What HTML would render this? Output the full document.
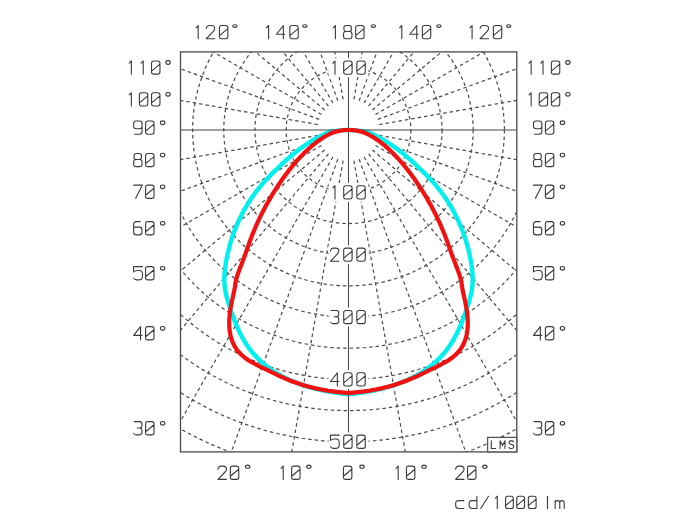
<!DOCTYPE html>
<html><head><meta charset="utf-8"><style>
html,body{margin:0;padding:0;background:#fff;}
body{width:700px;height:525px;overflow:hidden;font-family:"Liberation Sans",sans-serif;}
svg{display:block;filter:blur(0.3px);}
</style></head><body>
<svg width="700" height="525" viewBox="0 0 700 525" xmlns="http://www.w3.org/2000/svg">
<rect width="700" height="525" fill="#fff"/>
<defs><clipPath id="fc"><rect x="180.5" y="51.9" width="336.30" height="400.00"/></clipPath></defs>
<g clip-path="url(#fc)" fill="none" stroke="#4a4a4a" stroke-width="1.2" stroke-dasharray="3.5 3">
<circle cx="348.5" cy="130.0" r="62.35"/><circle cx="348.5" cy="130.0" r="93.53"/><circle cx="348.5" cy="130.0" r="124.70"/><circle cx="348.5" cy="130.0" r="155.88"/><circle cx="348.5" cy="130.0" r="187.05"/><circle cx="348.5" cy="130.0" r="218.23"/><circle cx="348.5" cy="130.0" r="249.40"/><circle cx="348.5" cy="130.0" r="280.58"/><circle cx="348.5" cy="130.0" r="311.75"/><circle cx="348.5" cy="130.0" r="342.93"/><line x1="343.09" y1="160.70" x2="279.04" y2="523.92"/><line x1="337.84" y1="159.29" x2="211.69" y2="505.88"/><line x1="332.91" y1="157.00" x2="148.50" y2="476.41"/><line x1="328.46" y1="153.88" x2="91.38" y2="436.42"/><line x1="324.62" y1="150.04" x2="42.08" y2="387.12"/><line x1="321.50" y1="145.59" x2="2.09" y2="330.00"/><line x1="319.21" y1="140.66" x2="-27.38" y2="266.81"/><line x1="317.80" y1="135.41" x2="-45.42" y2="199.46"/><line x1="317.80" y1="124.59" x2="-45.42" y2="60.54"/><line x1="319.21" y1="119.34" x2="-27.38" y2="-6.81"/><line x1="321.50" y1="114.41" x2="2.09" y2="-70.00"/><line x1="324.62" y1="109.96" x2="42.08" y2="-127.12"/><line x1="328.46" y1="106.12" x2="91.38" y2="-176.42"/><line x1="332.91" y1="103.00" x2="148.50" y2="-216.41"/><line x1="337.84" y1="100.71" x2="211.69" y2="-245.88"/><line x1="343.09" y1="99.30" x2="279.04" y2="-263.92"/><line x1="353.91" y1="160.70" x2="417.96" y2="523.92"/><line x1="359.16" y1="159.29" x2="485.31" y2="505.88"/><line x1="364.09" y1="157.00" x2="548.50" y2="476.41"/><line x1="368.54" y1="153.88" x2="605.62" y2="436.42"/><line x1="372.38" y1="150.04" x2="654.92" y2="387.12"/><line x1="375.50" y1="145.59" x2="694.91" y2="330.00"/><line x1="377.79" y1="140.66" x2="724.38" y2="266.81"/><line x1="379.20" y1="135.41" x2="742.42" y2="199.46"/><line x1="379.20" y1="124.59" x2="742.42" y2="60.54"/><line x1="377.79" y1="119.34" x2="724.38" y2="-6.81"/><line x1="375.50" y1="114.41" x2="694.91" y2="-70.00"/><line x1="372.38" y1="109.96" x2="654.92" y2="-127.12"/><line x1="368.54" y1="106.12" x2="605.62" y2="-176.42"/><line x1="364.09" y1="103.00" x2="548.50" y2="-216.41"/><line x1="359.16" y1="100.71" x2="485.31" y2="-245.88"/><line x1="353.91" y1="99.30" x2="417.96" y2="-263.92"/>
</g>

<g fill="none" stroke-linejoin="round" stroke-linecap="butt">
<path d="M348.50 394.41C348.12 394.37 346.96 394.24 346.19 394.15C345.43 394.06 344.66 393.96 343.89 393.87C343.13 393.77 342.36 393.67 341.60 393.57C340.83 393.47 340.07 393.37 339.31 393.26C338.54 393.15 337.78 393.05 337.02 392.93C336.26 392.82 335.50 392.71 334.74 392.59C333.98 392.47 333.22 392.35 332.46 392.22C331.70 392.10 330.95 391.97 330.19 391.84C329.43 391.71 328.68 391.57 327.92 391.44C327.17 391.30 326.42 391.16 325.66 391.01C324.91 390.86 324.16 390.71 323.41 390.56C322.66 390.41 321.91 390.25 321.16 390.09C320.42 389.93 319.67 389.76 318.92 389.59C318.18 389.42 317.43 389.25 316.69 389.07C315.95 388.89 315.21 388.70 314.47 388.52C313.73 388.33 312.99 388.14 312.25 387.94C311.51 387.74 310.78 387.54 310.04 387.33C309.31 387.13 308.57 386.92 307.84 386.70C307.11 386.48 306.38 386.26 305.65 386.03C304.93 385.81 304.20 385.57 303.48 385.34C302.75 385.10 302.03 384.86 301.31 384.61C300.59 384.36 299.87 384.11 299.16 383.85C298.44 383.59 297.73 383.32 297.02 383.05C296.30 382.78 295.60 382.50 294.89 382.22C294.18 381.94 293.48 381.65 292.78 381.36C292.07 381.06 291.37 380.76 290.68 380.46C289.98 380.15 289.29 379.84 288.60 379.52C287.91 379.20 287.22 378.87 286.53 378.54C285.85 378.21 285.16 377.87 284.49 377.53C283.81 377.18 283.13 376.83 282.46 376.47C281.79 376.11 281.12 375.75 280.45 375.38C279.79 375.01 279.12 374.63 278.46 374.24C277.81 373.86 277.15 373.47 276.50 373.07C275.85 372.67 275.20 372.26 274.56 371.85C273.92 371.44 273.28 371.02 272.64 370.59C272.01 370.16 271.38 369.73 270.75 369.28C270.13 368.84 269.50 368.39 268.89 367.94C268.27 367.48 267.66 367.02 267.05 366.54C266.44 366.07 265.84 365.59 265.24 365.11C264.65 364.62 264.05 364.13 263.47 363.63C262.88 363.12 262.30 362.62 261.72 362.10C261.15 361.58 260.57 361.06 260.01 360.52C259.44 359.99 258.89 359.45 258.33 358.90C257.78 358.36 257.23 357.80 256.69 357.24C256.15 356.67 255.61 356.10 255.09 355.52C254.56 354.94 254.03 354.36 253.52 353.76C253.00 353.16 252.50 352.56 251.99 351.95C251.49 351.34 251.00 350.72 250.51 350.09C250.02 349.46 249.54 348.83 249.07 348.18C248.59 347.54 248.13 346.89 247.67 346.23C247.21 345.57 246.76 344.90 246.32 344.23C245.88 343.55 245.44 342.86 245.02 342.17C244.59 341.48 244.17 340.78 243.76 340.08C243.35 339.37 242.94 338.66 242.55 337.95C242.15 337.23 241.76 336.51 241.38 335.78C241.00 335.05 240.62 334.32 240.25 333.58C239.88 332.85 239.52 332.11 239.17 331.36C238.81 330.62 238.47 329.87 238.13 329.12C237.78 328.37 237.45 327.62 237.12 326.86C236.79 326.11 236.47 325.35 236.15 324.60C235.83 323.84 235.52 323.08 235.21 322.32C234.91 321.56 234.61 320.80 234.31 320.04C234.01 319.29 233.72 318.53 233.44 317.77C233.15 317.01 232.87 316.25 232.59 315.49C232.32 314.73 232.04 313.98 231.78 313.22C231.51 312.46 231.25 311.71 230.99 310.95C230.73 310.19 230.48 309.44 230.23 308.68C229.98 307.93 229.74 307.18 229.50 306.42C229.26 305.67 229.03 304.92 228.80 304.17C228.57 303.42 228.34 302.67 228.12 301.92C227.90 301.17 227.68 300.42 227.47 299.67C227.26 298.92 227.06 298.18 226.86 297.42C226.66 296.67 226.47 295.92 226.29 295.16C226.11 294.40 225.93 293.64 225.77 292.87C225.61 292.10 225.45 291.32 225.31 290.54C225.18 289.75 225.05 288.96 224.93 288.16C224.82 287.35 224.72 286.54 224.64 285.72C224.56 284.89 224.49 284.05 224.44 283.20C224.39 282.35 224.36 281.49 224.34 280.61C224.33 279.74 224.34 278.85 224.35 277.95C224.37 277.05 224.41 276.15 224.46 275.23C224.51 274.32 224.58 273.39 224.66 272.47C224.73 271.54 224.83 270.60 224.93 269.67C225.04 268.73 225.16 267.79 225.28 266.85C225.41 265.90 225.55 264.96 225.70 264.01C225.85 263.07 226.01 262.12 226.17 261.18C226.34 260.24 226.51 259.30 226.69 258.36C226.88 257.42 227.07 256.48 227.26 255.54C227.46 254.61 227.67 253.68 227.88 252.74C228.09 251.81 228.31 250.88 228.54 249.96C228.77 249.03 229.01 248.11 229.25 247.19C229.50 246.26 229.75 245.34 230.01 244.43C230.27 243.51 230.54 242.59 230.81 241.68C231.09 240.77 231.37 239.86 231.66 238.95C231.95 238.05 232.25 237.14 232.56 236.24C232.87 235.34 233.18 234.44 233.50 233.54C233.83 232.65 234.16 231.75 234.49 230.86C234.83 229.97 235.18 229.09 235.53 228.20C235.89 227.32 236.25 226.44 236.62 225.56C236.98 224.68 237.36 223.81 237.75 222.93C238.13 222.06 238.52 221.19 238.92 220.33C239.32 219.46 239.73 218.60 240.15 217.74C240.56 216.88 240.99 216.03 241.42 215.18C241.85 214.32 242.29 213.48 242.74 212.63C243.19 211.78 243.64 210.94 244.11 210.10C244.57 209.26 245.05 208.43 245.53 207.59C246.01 206.76 246.50 205.93 247.00 205.11C247.50 204.28 248.00 203.46 248.52 202.64C249.04 201.82 249.56 201.01 250.09 200.19C250.63 199.38 251.17 198.57 251.72 197.77C252.27 196.96 252.83 196.16 253.40 195.36C253.97 194.56 254.55 193.77 255.13 192.98C255.72 192.19 256.32 191.40 256.92 190.61C257.53 189.83 258.14 189.05 258.77 188.27C259.39 187.50 260.03 186.72 260.67 185.95C261.31 185.19 261.97 184.42 262.63 183.66C263.29 182.90 263.96 182.14 264.64 181.39C265.33 180.63 266.02 179.88 266.72 179.14C267.42 178.39 268.13 177.65 268.84 176.92C269.55 176.19 270.27 175.47 270.98 174.76C271.68 174.05 272.39 173.35 273.09 172.67C273.78 171.98 274.47 171.31 275.14 170.67C275.81 170.02 276.46 169.38 277.09 168.77C277.73 168.16 278.34 167.56 278.95 166.98C279.55 166.40 280.14 165.84 280.72 165.28C281.30 164.73 281.86 164.20 282.42 163.67C282.98 163.14 283.53 162.63 284.07 162.12C284.61 161.62 285.15 161.13 285.68 160.64C286.21 160.15 286.74 159.68 287.27 159.21C287.80 158.73 288.32 158.27 288.85 157.82C289.37 157.36 289.89 156.91 290.41 156.47C290.93 156.03 291.44 155.60 291.96 155.18C292.47 154.75 292.98 154.33 293.48 153.92C293.99 153.51 294.49 153.11 294.99 152.71C295.49 152.32 295.98 151.93 296.47 151.55C296.96 151.17 297.45 150.80 297.93 150.43C298.41 150.07 298.89 149.71 299.36 149.36C299.83 149.01 300.29 148.66 300.76 148.33C301.22 147.99 301.68 147.66 302.13 147.34C302.58 147.01 303.03 146.70 303.47 146.39C303.91 146.08 304.35 145.78 304.78 145.48C305.21 145.18 305.64 144.90 306.07 144.61C306.49 144.33 306.91 144.05 307.32 143.78C307.73 143.51 308.14 143.24 308.54 142.98C308.95 142.72 309.34 142.47 309.74 142.22C310.13 141.97 310.52 141.73 310.90 141.49C311.29 141.26 311.66 141.03 312.04 140.80C312.41 140.57 312.78 140.35 313.14 140.14C313.51 139.92 313.87 139.71 314.22 139.51C314.57 139.30 314.92 139.10 315.27 138.90C315.61 138.71 315.95 138.52 316.28 138.33C316.62 138.14 316.95 137.96 317.27 137.79C317.60 137.61 317.92 137.44 318.23 137.27C318.55 137.10 318.86 136.93 319.16 136.77C319.47 136.61 319.77 136.46 320.07 136.30C320.36 136.15 320.65 136.00 320.94 135.86C321.23 135.71 321.51 135.57 321.79 135.43C322.06 135.30 322.34 135.16 322.61 135.03C322.87 134.90 323.14 134.78 323.40 134.65C323.66 134.53 323.91 134.41 324.16 134.29C324.41 134.17 324.66 134.06 324.90 133.95C325.14 133.84 325.37 133.73 325.61 133.63C325.84 133.52 326.07 133.42 326.29 133.32C326.52 133.22 326.73 133.12 326.95 133.03C327.16 132.93 327.38 132.84 327.58 132.75C327.79 132.66 327.99 132.58 328.19 132.49C328.39 132.41 328.58 132.33 328.77 132.25C328.96 132.17 329.15 132.09 329.33 132.01C329.51 131.94 329.69 131.87 329.87 131.79C330.04 131.72 328.69 131.80 330.38 131.59C332.07 131.37 336.98 130.76 340.00 130.50C343.02 130.24 347.08 130.08 348.50 130.00M348.50 394.41C348.88 394.37 350.04 394.24 350.81 394.15C351.57 394.06 352.34 393.96 353.11 393.87C353.87 393.77 354.64 393.67 355.40 393.57C356.17 393.47 356.93 393.37 357.69 393.26C358.46 393.15 359.22 393.05 359.98 392.93C360.74 392.82 361.50 392.71 362.26 392.59C363.02 392.47 363.78 392.35 364.54 392.22C365.30 392.10 366.05 391.97 366.81 391.84C367.57 391.71 368.32 391.57 369.08 391.44C369.83 391.30 370.58 391.16 371.34 391.01C372.09 390.86 372.84 390.71 373.59 390.56C374.34 390.41 375.09 390.25 375.84 390.09C376.58 389.93 377.33 389.76 378.08 389.59C378.82 389.42 379.57 389.25 380.31 389.07C381.05 388.89 381.79 388.70 382.53 388.52C383.27 388.33 384.01 388.14 384.75 387.94C385.49 387.74 386.22 387.54 386.96 387.33C387.69 387.13 388.43 386.92 389.16 386.70C389.89 386.48 390.62 386.26 391.35 386.03C392.07 385.81 392.80 385.57 393.52 385.34C394.25 385.10 394.97 384.86 395.69 384.61C396.41 384.36 397.13 384.11 397.84 383.85C398.56 383.59 399.27 383.32 399.98 383.05C400.70 382.78 401.40 382.50 402.11 382.22C402.82 381.94 403.52 381.65 404.22 381.36C404.93 381.06 405.63 380.76 406.32 380.46C407.02 380.15 407.71 379.84 408.40 379.52C409.09 379.20 409.78 378.87 410.47 378.54C411.15 378.21 411.84 377.87 412.51 377.53C413.19 377.18 413.87 376.83 414.54 376.47C415.21 376.11 415.88 375.75 416.55 375.38C417.21 375.01 417.88 374.63 418.54 374.24C419.19 373.86 419.85 373.47 420.50 373.07C421.15 372.67 421.80 372.26 422.44 371.85C423.08 371.44 423.72 371.02 424.36 370.59C424.99 370.16 425.62 369.73 426.25 369.28C426.87 368.84 427.50 368.39 428.11 367.94C428.73 367.48 429.34 367.02 429.95 366.54C430.56 366.07 431.16 365.59 431.76 365.11C432.35 364.62 432.95 364.13 433.53 363.63C434.12 363.12 434.70 362.62 435.28 362.10C435.85 361.58 436.43 361.06 436.99 360.52C437.56 359.99 438.11 359.45 438.67 358.90C439.22 358.36 439.77 357.80 440.31 357.24C440.85 356.67 441.39 356.10 441.91 355.52C442.44 354.94 442.97 354.36 443.48 353.76C444.00 353.16 444.50 352.56 445.01 351.95C445.51 351.34 446.00 350.72 446.49 350.09C446.98 349.46 447.46 348.83 447.93 348.18C448.41 347.54 448.87 346.89 449.33 346.23C449.79 345.57 450.24 344.90 450.68 344.23C451.12 343.55 451.56 342.86 451.98 342.17C452.41 341.48 452.83 340.78 453.24 340.08C453.65 339.37 454.06 338.66 454.45 337.95C454.85 337.23 455.24 336.51 455.62 335.78C456.00 335.05 456.38 334.32 456.75 333.58C457.12 332.85 457.48 332.11 457.83 331.36C458.19 330.62 458.53 329.87 458.87 329.12C459.22 328.37 459.55 327.62 459.88 326.86C460.21 326.11 460.53 325.35 460.85 324.60C461.17 323.84 461.48 323.08 461.79 322.32C462.09 321.56 462.39 320.80 462.69 320.04C462.99 319.29 463.28 318.53 463.56 317.77C463.85 317.01 464.13 316.25 464.41 315.49C464.68 314.73 464.96 313.98 465.22 313.22C465.49 312.46 465.75 311.71 466.01 310.95C466.27 310.19 466.52 309.44 466.77 308.68C467.02 307.93 467.26 307.18 467.50 306.42C467.74 305.67 467.97 304.92 468.20 304.17C468.43 303.42 468.66 302.67 468.88 301.92C469.10 301.17 469.32 300.42 469.53 299.67C469.74 298.92 469.94 298.18 470.14 297.42C470.34 296.67 470.53 295.92 470.71 295.16C470.89 294.40 471.07 293.64 471.23 292.87C471.39 292.10 471.55 291.32 471.69 290.54C471.82 289.75 471.95 288.96 472.07 288.16C472.18 287.35 472.28 286.54 472.36 285.72C472.44 284.89 472.51 284.05 472.56 283.20C472.61 282.35 472.64 281.49 472.66 280.61C472.67 279.74 472.66 278.85 472.65 277.95C472.63 277.05 472.59 276.15 472.54 275.23C472.49 274.32 472.42 273.39 472.34 272.47C472.27 271.54 472.17 270.60 472.07 269.67C471.96 268.73 471.84 267.79 471.72 266.85C471.59 265.90 471.45 264.96 471.30 264.01C471.15 263.07 470.99 262.12 470.83 261.18C470.66 260.24 470.49 259.30 470.31 258.36C470.12 257.42 469.93 256.48 469.74 255.54C469.54 254.61 469.33 253.68 469.12 252.74C468.91 251.81 468.69 250.88 468.46 249.96C468.23 249.03 467.99 248.11 467.75 247.19C467.50 246.26 467.25 245.34 466.99 244.43C466.73 243.51 466.46 242.59 466.19 241.68C465.91 240.77 465.63 239.86 465.34 238.95C465.05 238.05 464.75 237.14 464.44 236.24C464.13 235.34 463.82 234.44 463.50 233.54C463.17 232.65 462.84 231.75 462.51 230.86C462.17 229.97 461.82 229.09 461.47 228.20C461.11 227.32 460.75 226.44 460.38 225.56C460.02 224.68 459.64 223.81 459.25 222.93C458.87 222.06 458.48 221.19 458.08 220.33C457.68 219.46 457.27 218.60 456.85 217.74C456.44 216.88 456.01 216.03 455.58 215.18C455.15 214.32 454.71 213.48 454.26 212.63C453.81 211.78 453.36 210.94 452.89 210.10C452.43 209.26 451.95 208.43 451.47 207.59C450.99 206.76 450.50 205.93 450.00 205.11C449.50 204.28 449.00 203.46 448.48 202.64C447.96 201.82 447.44 201.01 446.91 200.19C446.37 199.38 445.83 198.57 445.28 197.77C444.73 196.96 444.17 196.16 443.60 195.36C443.03 194.56 442.45 193.77 441.87 192.98C441.28 192.19 440.68 191.40 440.08 190.61C439.47 189.83 438.86 189.05 438.23 188.27C437.61 187.50 436.97 186.72 436.33 185.95C435.69 185.19 435.03 184.42 434.37 183.66C433.71 182.90 433.04 182.14 432.36 181.39C431.67 180.63 430.98 179.88 430.28 179.14C429.58 178.39 428.87 177.65 428.16 176.92C427.45 176.19 426.73 175.47 426.02 174.76C425.32 174.05 424.61 173.35 423.91 172.67C423.22 171.98 422.53 171.31 421.86 170.67C421.19 170.02 420.54 169.38 419.91 168.77C419.27 168.16 418.66 167.56 418.05 166.98C417.45 166.40 416.86 165.84 416.28 165.28C415.70 164.73 415.14 164.20 414.58 163.67C414.02 163.14 413.47 162.63 412.93 162.12C412.39 161.62 411.85 161.13 411.32 160.64C410.79 160.15 410.26 159.68 409.73 159.21C409.20 158.73 408.68 158.27 408.15 157.82C407.63 157.36 407.11 156.91 406.59 156.47C406.07 156.03 405.56 155.60 405.04 155.18C404.53 154.75 404.02 154.33 403.52 153.92C403.01 153.51 402.51 153.11 402.01 152.71C401.51 152.32 401.02 151.93 400.53 151.55C400.04 151.17 399.55 150.80 399.07 150.43C398.59 150.07 398.11 149.71 397.64 149.36C397.17 149.01 396.71 148.66 396.24 148.33C395.78 147.99 395.32 147.66 394.87 147.34C394.42 147.01 393.97 146.70 393.53 146.39C393.09 146.08 392.65 145.78 392.22 145.48C391.79 145.18 391.36 144.90 390.93 144.61C390.51 144.33 390.09 144.05 389.68 143.78C389.27 143.51 388.86 143.24 388.46 142.98C388.05 142.72 387.66 142.47 387.26 142.22C386.87 141.97 386.48 141.73 386.10 141.49C385.71 141.26 385.34 141.03 384.96 140.80C384.59 140.57 384.22 140.35 383.86 140.14C383.49 139.92 383.13 139.71 382.78 139.51C382.43 139.30 382.08 139.10 381.73 138.90C381.39 138.71 381.05 138.52 380.72 138.33C380.38 138.14 380.05 137.96 379.73 137.79C379.40 137.61 379.08 137.44 378.77 137.27C378.45 137.10 378.14 136.93 377.84 136.77C377.53 136.61 377.23 136.46 376.93 136.30C376.64 136.15 376.35 136.00 376.06 135.86C375.77 135.71 375.49 135.57 375.21 135.43C374.94 135.30 374.66 135.16 374.39 135.03C374.13 134.90 373.86 134.78 373.60 134.65C373.34 134.53 373.09 134.41 372.84 134.29C372.59 134.17 372.34 134.06 372.10 133.95C371.86 133.84 371.63 133.73 371.39 133.63C371.16 133.52 370.93 133.42 370.71 133.32C370.48 133.22 370.27 133.12 370.05 133.03C369.84 132.93 369.62 132.84 369.42 132.75C369.21 132.66 369.01 132.58 368.81 132.49C368.61 132.41 368.42 132.33 368.23 132.25C368.04 132.17 367.85 132.09 367.67 132.01C367.49 131.94 367.31 131.87 367.13 131.79C366.96 131.72 368.31 131.80 366.62 131.59C364.93 131.37 360.02 130.76 357.00 130.50C353.98 130.24 349.92 130.08 348.50 130.00" stroke="#00f0f0" stroke-width="4.4"/>
</g>
<g stroke="#444" stroke-width="1" fill="none">
<line x1="180.5" y1="130.0" x2="516.8" y2="130.0"/>
<line x1="348.5" y1="51.9" x2="348.5" y2="451.9"/>
</g>
<g fill="none" stroke-linejoin="round" stroke-linecap="butt">
<path d="M348.50 392.94C348.12 392.91 346.97 392.84 346.21 392.79C345.44 392.73 344.68 392.67 343.92 392.61C343.15 392.55 342.39 392.48 341.63 392.41C340.87 392.34 340.11 392.27 339.34 392.19C338.58 392.11 337.82 392.03 337.06 391.94C336.30 391.86 335.54 391.76 334.79 391.67C334.03 391.57 333.27 391.48 332.51 391.37C331.76 391.27 331.00 391.16 330.25 391.05C329.49 390.94 328.74 390.82 327.98 390.70C327.23 390.58 326.48 390.46 325.72 390.33C324.97 390.20 324.22 390.07 323.47 389.93C322.72 389.80 321.97 389.66 321.22 389.51C320.48 389.36 319.73 389.21 318.98 389.06C318.24 388.90 317.49 388.75 316.75 388.58C316.01 388.42 315.26 388.25 314.52 388.08C313.78 387.91 313.04 387.73 312.30 387.55C311.57 387.37 310.83 387.18 310.09 386.99C309.36 386.80 308.62 386.61 307.89 386.41C307.16 386.21 306.42 386.00 305.69 385.80C304.96 385.59 304.24 385.37 303.51 385.16C302.78 384.94 302.06 384.72 301.33 384.49C300.61 384.26 299.89 384.03 299.17 383.80C298.45 383.56 297.73 383.32 297.01 383.07C296.30 382.83 295.58 382.58 294.87 382.32C294.15 382.07 293.44 381.81 292.73 381.54C292.03 381.28 291.32 381.01 290.61 380.73C289.91 380.46 289.21 380.18 288.51 379.90C287.80 379.61 287.11 379.33 286.41 379.03C285.71 378.74 285.02 378.45 284.33 378.15C283.63 377.85 282.94 377.54 282.25 377.24C281.56 376.93 280.88 376.62 280.19 376.31C279.51 376.00 278.82 375.68 278.14 375.36C277.46 375.05 276.78 374.73 276.10 374.41C275.43 374.08 274.75 373.76 274.07 373.44C273.40 373.11 272.73 372.78 272.05 372.46C271.38 372.13 270.71 371.80 270.04 371.47C269.37 371.14 268.70 370.81 268.04 370.48C267.37 370.15 266.70 369.82 266.04 369.49C265.37 369.16 264.71 368.83 264.04 368.50C263.38 368.17 262.71 367.84 262.05 367.52C261.39 367.19 260.73 366.86 260.06 366.53C259.40 366.20 258.74 365.88 258.08 365.55C257.42 365.21 256.77 364.88 256.11 364.54C255.46 364.20 254.80 363.86 254.16 363.51C253.51 363.16 252.86 362.81 252.22 362.44C251.58 362.08 250.94 361.71 250.31 361.33C249.67 360.95 249.05 360.56 248.42 360.16C247.80 359.76 247.19 359.35 246.58 358.92C245.97 358.49 245.37 358.06 244.78 357.60C244.18 357.15 243.60 356.68 243.02 356.19C242.45 355.71 241.88 355.21 241.33 354.68C240.78 354.16 240.24 353.62 239.71 353.06C239.18 352.50 238.66 351.91 238.16 351.31C237.66 350.70 237.17 350.08 236.70 349.42C236.23 348.77 235.77 348.09 235.33 347.39C234.90 346.69 234.48 345.96 234.08 345.20C233.68 344.44 233.30 343.66 232.94 342.84C232.58 342.02 232.24 341.18 231.93 340.30C231.61 339.43 231.32 338.52 231.06 337.58C230.79 336.64 230.55 335.67 230.34 334.66C230.13 333.66 229.94 332.62 229.78 331.54C229.63 330.46 229.50 329.35 229.41 328.20C229.32 327.05 229.25 325.87 229.22 324.64C229.20 323.42 229.20 322.15 229.24 320.85C229.29 319.55 229.36 318.20 229.48 316.83C229.59 315.45 229.74 314.03 229.93 312.58C230.12 311.13 230.34 309.65 230.59 308.14C230.84 306.63 231.14 305.08 231.45 303.54C231.75 302.00 232.09 300.43 232.43 298.89C232.76 297.35 233.12 295.79 233.45 294.31C233.77 292.83 234.12 291.34 234.38 289.99C234.65 288.63 234.83 287.40 235.02 286.19C235.21 284.97 235.29 283.92 235.52 282.69C235.74 281.45 236.01 280.17 236.38 278.79C236.75 277.40 237.21 275.90 237.71 274.38C238.21 272.87 238.79 271.26 239.37 269.68C239.95 268.10 240.59 266.47 241.20 264.89C241.81 263.32 242.46 261.72 243.04 260.23C243.62 258.74 244.17 257.31 244.68 255.94C245.19 254.58 245.65 253.29 246.10 252.04C246.54 250.78 246.95 249.59 247.36 248.41C247.78 247.23 248.16 246.10 248.56 244.96C248.96 243.83 249.36 242.71 249.76 241.60C250.17 240.49 250.57 239.39 250.99 238.30C251.40 237.21 251.81 236.13 252.23 235.06C252.65 233.98 253.08 232.92 253.51 231.87C253.94 230.81 254.38 229.76 254.82 228.72C255.26 227.68 255.70 226.65 256.15 225.63C256.60 224.61 257.05 223.59 257.51 222.59C257.97 221.59 258.43 220.59 258.89 219.61C259.36 218.62 259.83 217.64 260.30 216.68C260.77 215.71 261.24 214.75 261.72 213.81C262.19 212.86 262.67 211.92 263.15 211.00C263.62 210.07 264.11 209.16 264.59 208.25C265.07 207.35 265.55 206.45 266.03 205.57C266.51 204.68 267.00 203.81 267.48 202.95C267.96 202.09 268.45 201.24 268.93 200.40C269.41 199.56 269.89 198.73 270.37 197.92C270.85 197.10 271.33 196.30 271.80 195.51C272.28 194.71 272.75 193.93 273.23 193.16C273.70 192.39 274.17 191.63 274.64 190.88C275.11 190.14 275.58 189.40 276.04 188.67C276.51 187.95 276.97 187.23 277.43 186.53C277.89 185.82 278.35 185.13 278.81 184.45C279.27 183.76 279.72 183.09 280.18 182.43C280.63 181.76 281.08 181.11 281.53 180.47C281.98 179.82 282.42 179.19 282.87 178.57C283.31 177.94 283.75 177.33 284.19 176.72C284.63 176.12 285.06 175.52 285.50 174.94C285.93 174.35 286.36 173.78 286.79 173.21C287.22 172.64 287.65 172.08 288.07 171.53C288.49 170.98 288.91 170.44 289.33 169.91C289.75 169.38 290.17 168.85 290.58 168.34C290.99 167.82 291.40 167.32 291.81 166.82C292.21 166.32 292.62 165.83 293.02 165.34C293.42 164.86 293.82 164.39 294.22 163.92C294.61 163.45 295.01 162.99 295.40 162.54C295.79 162.09 296.17 161.65 296.56 161.21C296.94 160.77 297.32 160.34 297.70 159.92C298.08 159.50 298.46 159.08 298.83 158.68C299.20 158.27 299.57 157.87 299.94 157.47C300.31 157.08 300.67 156.69 301.04 156.31C301.40 155.93 301.76 155.55 302.11 155.19C302.47 154.82 302.82 154.46 303.17 154.10C303.52 153.75 303.87 153.40 304.21 153.05C304.56 152.71 304.90 152.37 305.24 152.04C305.58 151.71 305.91 151.39 306.25 151.07C306.58 150.75 306.91 150.43 307.24 150.12C307.57 149.82 307.89 149.51 308.21 149.22C308.54 148.92 308.86 148.63 309.17 148.34C309.49 148.05 309.81 147.77 310.12 147.49C310.43 147.22 310.74 146.94 311.04 146.68C311.35 146.41 311.66 146.15 311.96 145.89C312.26 145.63 312.56 145.38 312.85 145.13C313.15 144.88 313.45 144.64 313.74 144.40C314.03 144.16 314.32 143.93 314.61 143.69C314.89 143.46 315.18 143.24 315.46 143.01C315.74 142.79 316.02 142.57 316.30 142.36C316.58 142.15 316.85 141.94 317.13 141.73C317.40 141.52 317.67 141.32 317.94 141.12C318.21 140.92 318.48 140.73 318.75 140.54C319.01 140.34 319.28 140.16 319.54 139.97C319.80 139.79 320.06 139.61 320.32 139.43C320.58 139.25 320.83 139.08 321.09 138.91C321.34 138.74 321.60 138.57 321.85 138.40C322.10 138.24 322.35 138.08 322.60 137.92C322.85 137.76 323.09 137.61 323.34 137.45C323.59 137.30 323.83 137.15 324.07 137.00C324.32 136.86 324.56 136.71 324.80 136.57C325.04 136.43 325.28 136.29 325.52 136.16C325.75 136.02 325.99 135.89 326.23 135.76C326.46 135.63 326.70 135.50 326.93 135.38C327.17 135.25 327.40 135.13 327.63 135.01C327.87 134.89 328.10 134.77 328.33 134.66C328.56 134.54 328.79 134.43 329.02 134.32C329.25 134.21 329.48 134.10 329.71 133.99C329.94 133.89 330.17 133.78 330.40 133.68C330.63 133.58 330.86 133.48 331.09 133.38C331.31 133.29 331.54 133.19 331.77 133.10C332.00 133.01 332.23 132.92 332.46 132.83C332.68 132.74 332.91 132.65 333.14 132.57C333.37 132.49 333.60 132.40 333.83 132.32C334.06 132.24 334.29 132.17 334.52 132.09C334.75 132.01 334.98 131.94 335.21 131.87C335.44 131.80 335.67 131.73 335.90 131.66C336.13 131.59 336.37 131.52 336.60 131.46C336.84 131.40 337.07 131.34 337.31 131.28C337.54 131.22 337.78 131.16 338.02 131.10C338.25 131.05 338.49 130.99 338.73 130.94C338.97 130.89 339.22 130.84 339.46 130.79C339.70 130.74 339.95 130.70 340.19 130.65C340.44 130.61 340.38 130.60 340.93 130.53C341.48 130.45 342.24 130.29 343.50 130.20C344.76 130.11 347.67 130.03 348.50 130.00M348.50 392.94C348.88 392.91 350.03 392.84 350.79 392.79C351.56 392.73 352.32 392.67 353.08 392.61C353.85 392.55 354.61 392.48 355.37 392.41C356.13 392.34 356.89 392.27 357.66 392.19C358.42 392.11 359.18 392.03 359.94 391.94C360.70 391.86 361.46 391.76 362.21 391.67C362.97 391.57 363.73 391.48 364.49 391.37C365.24 391.27 366.00 391.16 366.75 391.05C367.51 390.94 368.26 390.82 369.02 390.70C369.77 390.58 370.52 390.46 371.28 390.33C372.03 390.20 372.78 390.07 373.53 389.93C374.28 389.80 375.03 389.66 375.78 389.51C376.52 389.36 377.27 389.21 378.02 389.06C378.76 388.90 379.51 388.75 380.25 388.58C380.99 388.42 381.74 388.25 382.48 388.08C383.22 387.91 383.96 387.73 384.70 387.55C385.43 387.37 386.17 387.18 386.91 386.99C387.64 386.80 388.38 386.61 389.11 386.41C389.84 386.21 390.58 386.00 391.31 385.80C392.04 385.59 392.76 385.37 393.49 385.16C394.22 384.94 394.94 384.72 395.67 384.49C396.39 384.26 397.11 384.03 397.83 383.80C398.55 383.56 399.27 383.32 399.99 383.07C400.70 382.83 401.42 382.58 402.13 382.32C402.85 382.07 403.56 381.81 404.27 381.54C404.97 381.28 405.68 381.01 406.39 380.73C407.09 380.46 407.79 380.18 408.49 379.90C409.20 379.61 409.89 379.33 410.59 379.03C411.29 378.74 411.98 378.45 412.67 378.15C413.37 377.85 414.06 377.54 414.75 377.24C415.44 376.93 416.12 376.62 416.81 376.31C417.49 376.00 418.18 375.68 418.86 375.36C419.54 375.05 420.22 374.73 420.90 374.41C421.57 374.08 422.25 373.76 422.93 373.44C423.60 373.11 424.27 372.78 424.95 372.46C425.62 372.13 426.29 371.80 426.96 371.47C427.63 371.14 428.30 370.81 428.96 370.48C429.63 370.15 430.30 369.82 430.96 369.49C431.63 369.16 432.29 368.83 432.96 368.50C433.62 368.17 434.29 367.84 434.95 367.52C435.61 367.19 436.27 366.86 436.94 366.53C437.60 366.20 438.26 365.88 438.92 365.55C439.58 365.21 440.23 364.88 440.89 364.54C441.54 364.20 442.20 363.86 442.84 363.51C443.49 363.16 444.14 362.81 444.78 362.44C445.42 362.08 446.06 361.71 446.69 361.33C447.33 360.95 447.95 360.56 448.58 360.16C449.20 359.76 449.81 359.35 450.42 358.92C451.03 358.49 451.63 358.06 452.22 357.60C452.82 357.15 453.40 356.68 453.98 356.19C454.55 355.71 455.12 355.21 455.67 354.68C456.22 354.16 456.76 353.62 457.29 353.06C457.82 352.50 458.34 351.91 458.84 351.31C459.34 350.70 459.83 350.08 460.30 349.42C460.77 348.77 461.23 348.09 461.67 347.39C462.10 346.69 462.52 345.96 462.92 345.20C463.32 344.44 463.70 343.66 464.06 342.84C464.42 342.02 464.76 341.18 465.07 340.30C465.39 339.43 465.68 338.52 465.94 337.58C466.21 336.64 466.45 335.67 466.66 334.66C466.87 333.66 467.06 332.62 467.22 331.54C467.37 330.46 467.50 329.35 467.59 328.20C467.68 327.05 467.75 325.87 467.78 324.64C467.80 323.42 467.80 322.15 467.76 320.85C467.71 319.55 467.64 318.20 467.52 316.83C467.41 315.45 467.26 314.03 467.07 312.58C466.88 311.13 466.66 309.65 466.41 308.14C466.16 306.63 465.86 305.08 465.55 303.54C465.25 302.00 464.91 300.43 464.57 298.89C464.24 297.35 463.88 295.79 463.55 294.31C463.23 292.83 462.88 291.34 462.62 289.99C462.35 288.63 462.17 287.40 461.98 286.19C461.79 284.97 461.71 283.92 461.48 282.69C461.26 281.45 460.99 280.17 460.62 278.79C460.25 277.40 459.79 275.90 459.29 274.38C458.79 272.87 458.21 271.26 457.63 269.68C457.05 268.10 456.41 266.47 455.80 264.89C455.19 263.32 454.54 261.72 453.96 260.23C453.38 258.74 452.83 257.31 452.32 255.94C451.81 254.58 451.35 253.29 450.90 252.04C450.46 250.78 450.05 249.59 449.64 248.41C449.22 247.23 448.84 246.10 448.44 244.96C448.04 243.83 447.64 242.71 447.24 241.60C446.83 240.49 446.43 239.39 446.01 238.30C445.60 237.21 445.19 236.13 444.77 235.06C444.35 233.98 443.92 232.92 443.49 231.87C443.06 230.81 442.62 229.76 442.18 228.72C441.74 227.68 441.30 226.65 440.85 225.63C440.40 224.61 439.95 223.59 439.49 222.59C439.03 221.59 438.57 220.59 438.11 219.61C437.64 218.62 437.17 217.64 436.70 216.68C436.23 215.71 435.76 214.75 435.28 213.81C434.81 212.86 434.33 211.92 433.85 211.00C433.38 210.07 432.89 209.16 432.41 208.25C431.93 207.35 431.45 206.45 430.97 205.57C430.49 204.68 430.00 203.81 429.52 202.95C429.04 202.09 428.55 201.24 428.07 200.40C427.59 199.56 427.11 198.73 426.63 197.92C426.15 197.10 425.67 196.30 425.20 195.51C424.72 194.71 424.25 193.93 423.77 193.16C423.30 192.39 422.83 191.63 422.36 190.88C421.89 190.14 421.42 189.40 420.96 188.67C420.49 187.95 420.03 187.23 419.57 186.53C419.11 185.82 418.65 185.13 418.19 184.45C417.73 183.76 417.28 183.09 416.82 182.43C416.37 181.76 415.92 181.11 415.47 180.47C415.02 179.82 414.58 179.19 414.13 178.57C413.69 177.94 413.25 177.33 412.81 176.72C412.37 176.12 411.94 175.52 411.50 174.94C411.07 174.35 410.64 173.78 410.21 173.21C409.78 172.64 409.35 172.08 408.93 171.53C408.51 170.98 408.09 170.44 407.67 169.91C407.25 169.38 406.83 168.85 406.42 168.34C406.01 167.82 405.60 167.32 405.19 166.82C404.79 166.32 404.38 165.83 403.98 165.34C403.58 164.86 403.18 164.39 402.78 163.92C402.39 163.45 401.99 162.99 401.60 162.54C401.21 162.09 400.83 161.65 400.44 161.21C400.06 160.77 399.68 160.34 399.30 159.92C398.92 159.50 398.54 159.08 398.17 158.68C397.80 158.27 397.43 157.87 397.06 157.47C396.69 157.08 396.33 156.69 395.96 156.31C395.60 155.93 395.24 155.55 394.89 155.19C394.53 154.82 394.18 154.46 393.83 154.10C393.48 153.75 393.13 153.40 392.79 153.05C392.44 152.71 392.10 152.37 391.76 152.04C391.42 151.71 391.09 151.39 390.75 151.07C390.42 150.75 390.09 150.43 389.76 150.12C389.43 149.82 389.11 149.51 388.79 149.22C388.46 148.92 388.14 148.63 387.83 148.34C387.51 148.05 387.19 147.77 386.88 147.49C386.57 147.22 386.26 146.94 385.96 146.68C385.65 146.41 385.34 146.15 385.04 145.89C384.74 145.63 384.44 145.38 384.15 145.13C383.85 144.88 383.55 144.64 383.26 144.40C382.97 144.16 382.68 143.93 382.39 143.69C382.11 143.46 381.82 143.24 381.54 143.01C381.26 142.79 380.98 142.57 380.70 142.36C380.42 142.15 380.15 141.94 379.87 141.73C379.60 141.52 379.33 141.32 379.06 141.12C378.79 140.92 378.52 140.73 378.25 140.54C377.99 140.34 377.72 140.16 377.46 139.97C377.20 139.79 376.94 139.61 376.68 139.43C376.42 139.25 376.17 139.08 375.91 138.91C375.66 138.74 375.40 138.57 375.15 138.40C374.90 138.24 374.65 138.08 374.40 137.92C374.15 137.76 373.91 137.61 373.66 137.45C373.41 137.30 373.17 137.15 372.93 137.00C372.68 136.86 372.44 136.71 372.20 136.57C371.96 136.43 371.72 136.29 371.48 136.16C371.25 136.02 371.01 135.89 370.77 135.76C370.54 135.63 370.30 135.50 370.07 135.38C369.83 135.25 369.60 135.13 369.37 135.01C369.13 134.89 368.90 134.77 368.67 134.66C368.44 134.54 368.21 134.43 367.98 134.32C367.75 134.21 367.52 134.10 367.29 133.99C367.06 133.89 366.83 133.78 366.60 133.68C366.37 133.58 366.14 133.48 365.91 133.38C365.69 133.29 365.46 133.19 365.23 133.10C365.00 133.01 364.77 132.92 364.54 132.83C364.32 132.74 364.09 132.65 363.86 132.57C363.63 132.49 363.40 132.40 363.17 132.32C362.94 132.24 362.71 132.17 362.48 132.09C362.25 132.01 362.02 131.94 361.79 131.87C361.56 131.80 361.33 131.73 361.10 131.66C360.87 131.59 360.63 131.52 360.40 131.46C360.16 131.40 359.93 131.34 359.69 131.28C359.46 131.22 359.22 131.16 358.98 131.10C358.75 131.05 358.51 130.99 358.27 130.94C358.03 130.89 357.78 130.84 357.54 130.79C357.30 130.74 357.05 130.70 356.81 130.65C356.56 130.61 356.62 130.60 356.07 130.53C355.52 130.45 354.76 130.29 353.50 130.20C352.24 130.11 349.33 130.03 348.50 130.00" stroke="#f21010" stroke-width="4.2"/>
</g>
<g fill="#fff"><rect x="328.60" y="58.20" width="39.80" height="18.90"/><rect x="328.60" y="182.90" width="39.80" height="18.90"/><rect x="328.60" y="245.25" width="39.80" height="18.90"/><rect x="328.60" y="307.60" width="39.80" height="18.90"/><rect x="328.60" y="369.95" width="39.80" height="18.90"/><rect x="328.60" y="432.30" width="39.80" height="18.90"/></g>
<rect x="180.5" y="51.9" width="336.30" height="400.00" fill="none" stroke="#4a4a4a" stroke-width="1.3"/>
<rect x="487.6" y="437.4" width="29.20" height="14.50" fill="#fff" stroke="#555" stroke-width="1.3"/>
<g fill="none" stroke="#3a3a3a" stroke-width="1.1" stroke-linecap="round" stroke-linejoin="round">
<path transform="translate(127.85 60.95)" d="M3.5 0V13.2M1.4 2.2L3.5 0"/><path transform="translate(139.70 60.95)" d="M3.5 0V13.2M1.4 2.2L3.5 0"/><path transform="translate(151.55 60.95)" d="M2.2 0H6.2Q8.4 0 8.4 2.2V11Q8.4 13.2 6.2 13.2H2.2Q0 13.2 0 11V2.2Q0 0 2.2 0ZM0 10.1L8.4 3.1"/><ellipse cx="168.05" cy="62.50" rx="2.2" ry="1.85"/><path transform="translate(127.85 92.75)" d="M3.5 0V13.2M1.4 2.2L3.5 0"/><path transform="translate(139.40 92.75)" d="M2.2 0H6.2Q8.4 0 8.4 2.2V11Q8.4 13.2 6.2 13.2H2.2Q0 13.2 0 11V2.2Q0 0 2.2 0ZM0 10.1L8.4 3.1"/><path transform="translate(151.55 92.75)" d="M2.2 0H6.2Q8.4 0 8.4 2.2V11Q8.4 13.2 6.2 13.2H2.2Q0 13.2 0 11V2.2Q0 0 2.2 0ZM0 10.1L8.4 3.1"/><ellipse cx="168.05" cy="94.30" rx="2.2" ry="1.85"/><path transform="translate(133.65 121.05)" d="M8.4 5.2C8.4 6.9 7.4 7.7 5.8 7.7H2.6C1 7.7 0 6.9 0 5.2V2.5C0 0.9 1 0 2.6 0H5.8C7.4 0 8.4 0.9 8.4 2.5V10.5C8.4 12.2 7.4 13.2 5.7 13.2H1"/><path transform="translate(145.60 121.05)" d="M2.2 0H6.2Q8.4 0 8.4 2.2V11Q8.4 13.2 6.2 13.2H2.2Q0 13.2 0 11V2.2Q0 0 2.2 0ZM0 10.1L8.4 3.1"/><ellipse cx="162.65" cy="122.70" rx="2.2" ry="1.85"/><path transform="translate(133.65 153.45)" d="M2.6 0H5.6C7 0 7.8 0.8 7.8 2.2V3.8C7.8 5.2 7 6 5.6 6H2.6C1.2 6 0.4 5.2 0.4 3.8V2.2C0.4 0.8 1.2 0 2.6 0ZM2.3 6H6.1C7.6 6 8.4 6.9 8.4 8.4V10.8C8.4 12.3 7.6 13.2 6.1 13.2H2.3C0.8 13.2 0 12.3 0 10.8V8.4C0 6.9 0.8 6 2.3 6Z"/><path transform="translate(145.60 153.45)" d="M2.2 0H6.2Q8.4 0 8.4 2.2V11Q8.4 13.2 6.2 13.2H2.2Q0 13.2 0 11V2.2Q0 0 2.2 0ZM0 10.1L8.4 3.1"/><ellipse cx="162.65" cy="155.10" rx="2.2" ry="1.85"/><path transform="translate(133.65 185.15)" d="M0 0H8.6L2 13.2"/><path transform="translate(145.60 185.15)" d="M2.2 0H6.2Q8.4 0 8.4 2.2V11Q8.4 13.2 6.2 13.2H2.2Q0 13.2 0 11V2.2Q0 0 2.2 0ZM0 10.1L8.4 3.1"/><ellipse cx="162.65" cy="186.80" rx="2.2" ry="1.85"/><path transform="translate(133.65 221.65)" d="M6.6 0H2.8C1 0 0 1.2 0 3V10.5C0 12.2 1 13.2 2.7 13.2H5.6C7.3 13.2 8.3 12.2 8.3 10.5V8.2C8.3 6.5 7.3 5.5 5.6 5.5H0"/><path transform="translate(145.60 221.65)" d="M2.2 0H6.2Q8.4 0 8.4 2.2V11Q8.4 13.2 6.2 13.2H2.2Q0 13.2 0 11V2.2Q0 0 2.2 0ZM0 10.1L8.4 3.1"/><ellipse cx="162.65" cy="223.30" rx="2.2" ry="1.85"/><path transform="translate(133.65 266.65)" d="M8.8 0H0V5.3C1 4.2 2.3 3.8 4 3.8H5.5C7.6 3.8 8.8 5.3 8.8 7.5V9.5C8.8 11.8 7.3 13.2 5 13.2H3C1.5 13.2 0.4 12.5 0 11.5"/><path transform="translate(145.60 266.65)" d="M2.2 0H6.2Q8.4 0 8.4 2.2V11Q8.4 13.2 6.2 13.2H2.2Q0 13.2 0 11V2.2Q0 0 2.2 0ZM0 10.1L8.4 3.1"/><ellipse cx="162.65" cy="268.30" rx="2.2" ry="1.85"/><path transform="translate(133.65 326.65)" d="M6.9 13.2V0L0 8.7H8.4"/><path transform="translate(145.60 326.65)" d="M2.2 0H6.2Q8.4 0 8.4 2.2V11Q8.4 13.2 6.2 13.2H2.2Q0 13.2 0 11V2.2Q0 0 2.2 0ZM0 10.1L8.4 3.1"/><ellipse cx="162.65" cy="328.30" rx="2.2" ry="1.85"/><path transform="translate(133.65 421.65)" d="M0.6 0H5.9C7.4 0 8.3 0.9 8.3 2.5V3.9C8.3 5.4 7.4 6.3 5.9 6.3H3.6M5.9 6.3C7.4 6.3 8.3 7.3 8.3 8.9V10.7C8.3 12.3 7.2 13.2 5.6 13.2H2.4C1.2 13.2 0.4 12.6 0 11.7"/><path transform="translate(145.60 421.65)" d="M2.2 0H6.2Q8.4 0 8.4 2.2V11Q8.4 13.2 6.2 13.2H2.2Q0 13.2 0 11V2.2Q0 0 2.2 0ZM0 10.1L8.4 3.1"/><ellipse cx="162.65" cy="423.30" rx="2.2" ry="1.85"/><path transform="translate(527.65 60.95)" d="M3.5 0V13.2M1.4 2.2L3.5 0"/><path transform="translate(539.50 60.95)" d="M3.5 0V13.2M1.4 2.2L3.5 0"/><path transform="translate(551.35 60.95)" d="M2.2 0H6.2Q8.4 0 8.4 2.2V11Q8.4 13.2 6.2 13.2H2.2Q0 13.2 0 11V2.2Q0 0 2.2 0ZM0 10.1L8.4 3.1"/><ellipse cx="567.85" cy="62.50" rx="2.2" ry="1.85"/><path transform="translate(527.65 92.75)" d="M3.5 0V13.2M1.4 2.2L3.5 0"/><path transform="translate(539.20 92.75)" d="M2.2 0H6.2Q8.4 0 8.4 2.2V11Q8.4 13.2 6.2 13.2H2.2Q0 13.2 0 11V2.2Q0 0 2.2 0ZM0 10.1L8.4 3.1"/><path transform="translate(551.35 92.75)" d="M2.2 0H6.2Q8.4 0 8.4 2.2V11Q8.4 13.2 6.2 13.2H2.2Q0 13.2 0 11V2.2Q0 0 2.2 0ZM0 10.1L8.4 3.1"/><ellipse cx="567.85" cy="94.30" rx="2.2" ry="1.85"/><path transform="translate(533.45 121.05)" d="M8.4 5.2C8.4 6.9 7.4 7.7 5.8 7.7H2.6C1 7.7 0 6.9 0 5.2V2.5C0 0.9 1 0 2.6 0H5.8C7.4 0 8.4 0.9 8.4 2.5V10.5C8.4 12.2 7.4 13.2 5.7 13.2H1"/><path transform="translate(545.40 121.05)" d="M2.2 0H6.2Q8.4 0 8.4 2.2V11Q8.4 13.2 6.2 13.2H2.2Q0 13.2 0 11V2.2Q0 0 2.2 0ZM0 10.1L8.4 3.1"/><ellipse cx="562.45" cy="122.70" rx="2.2" ry="1.85"/><path transform="translate(533.45 153.45)" d="M2.6 0H5.6C7 0 7.8 0.8 7.8 2.2V3.8C7.8 5.2 7 6 5.6 6H2.6C1.2 6 0.4 5.2 0.4 3.8V2.2C0.4 0.8 1.2 0 2.6 0ZM2.3 6H6.1C7.6 6 8.4 6.9 8.4 8.4V10.8C8.4 12.3 7.6 13.2 6.1 13.2H2.3C0.8 13.2 0 12.3 0 10.8V8.4C0 6.9 0.8 6 2.3 6Z"/><path transform="translate(545.40 153.45)" d="M2.2 0H6.2Q8.4 0 8.4 2.2V11Q8.4 13.2 6.2 13.2H2.2Q0 13.2 0 11V2.2Q0 0 2.2 0ZM0 10.1L8.4 3.1"/><ellipse cx="562.45" cy="155.10" rx="2.2" ry="1.85"/><path transform="translate(533.45 185.15)" d="M0 0H8.6L2 13.2"/><path transform="translate(545.40 185.15)" d="M2.2 0H6.2Q8.4 0 8.4 2.2V11Q8.4 13.2 6.2 13.2H2.2Q0 13.2 0 11V2.2Q0 0 2.2 0ZM0 10.1L8.4 3.1"/><ellipse cx="562.45" cy="186.80" rx="2.2" ry="1.85"/><path transform="translate(533.45 221.65)" d="M6.6 0H2.8C1 0 0 1.2 0 3V10.5C0 12.2 1 13.2 2.7 13.2H5.6C7.3 13.2 8.3 12.2 8.3 10.5V8.2C8.3 6.5 7.3 5.5 5.6 5.5H0"/><path transform="translate(545.40 221.65)" d="M2.2 0H6.2Q8.4 0 8.4 2.2V11Q8.4 13.2 6.2 13.2H2.2Q0 13.2 0 11V2.2Q0 0 2.2 0ZM0 10.1L8.4 3.1"/><ellipse cx="562.45" cy="223.30" rx="2.2" ry="1.85"/><path transform="translate(533.45 266.65)" d="M8.8 0H0V5.3C1 4.2 2.3 3.8 4 3.8H5.5C7.6 3.8 8.8 5.3 8.8 7.5V9.5C8.8 11.8 7.3 13.2 5 13.2H3C1.5 13.2 0.4 12.5 0 11.5"/><path transform="translate(545.40 266.65)" d="M2.2 0H6.2Q8.4 0 8.4 2.2V11Q8.4 13.2 6.2 13.2H2.2Q0 13.2 0 11V2.2Q0 0 2.2 0ZM0 10.1L8.4 3.1"/><ellipse cx="562.45" cy="268.30" rx="2.2" ry="1.85"/><path transform="translate(533.45 326.65)" d="M6.9 13.2V0L0 8.7H8.4"/><path transform="translate(545.40 326.65)" d="M2.2 0H6.2Q8.4 0 8.4 2.2V11Q8.4 13.2 6.2 13.2H2.2Q0 13.2 0 11V2.2Q0 0 2.2 0ZM0 10.1L8.4 3.1"/><ellipse cx="562.45" cy="328.30" rx="2.2" ry="1.85"/><path transform="translate(533.45 421.65)" d="M0.6 0H5.9C7.4 0 8.3 0.9 8.3 2.5V3.9C8.3 5.4 7.4 6.3 5.9 6.3H3.6M5.9 6.3C7.4 6.3 8.3 7.3 8.3 8.9V10.7C8.3 12.3 7.2 13.2 5.6 13.2H2.4C1.2 13.2 0.4 12.6 0 11.7"/><path transform="translate(545.40 421.65)" d="M2.2 0H6.2Q8.4 0 8.4 2.2V11Q8.4 13.2 6.2 13.2H2.2Q0 13.2 0 11V2.2Q0 0 2.2 0ZM0 10.1L8.4 3.1"/><ellipse cx="562.45" cy="423.30" rx="2.2" ry="1.85"/><path transform="translate(194.70 25.55)" d="M3.5 0V13.2M1.4 2.2L3.5 0"/><path transform="translate(206.25 25.55)" d="M0 3C0 1.2 1.4 0 3.2 0H5.2C7.1 0 8.4 1.2 8.4 3C8.4 4.3 7.8 5.1 6.8 6.1L0 13.2H8.4"/><path transform="translate(219.45 25.55)" d="M2.2 0H6.2Q8.4 0 8.4 2.2V11Q8.4 13.2 6.2 13.2H2.2Q0 13.2 0 11V2.2Q0 0 2.2 0ZM0 10.1L8.4 3.1"/><ellipse cx="234.85" cy="26.05" rx="2.2" ry="1.3"/><path transform="translate(468.60 25.55)" d="M3.5 0V13.2M1.4 2.2L3.5 0"/><path transform="translate(480.15 25.55)" d="M0 3C0 1.2 1.4 0 3.2 0H5.2C7.1 0 8.4 1.2 8.4 3C8.4 4.3 7.8 5.1 6.8 6.1L0 13.2H8.4"/><path transform="translate(493.35 25.55)" d="M2.2 0H6.2Q8.4 0 8.4 2.2V11Q8.4 13.2 6.2 13.2H2.2Q0 13.2 0 11V2.2Q0 0 2.2 0ZM0 10.1L8.4 3.1"/><ellipse cx="508.75" cy="26.05" rx="2.2" ry="1.3"/><path transform="translate(265.10 25.55)" d="M3.5 0V13.2M1.4 2.2L3.5 0"/><path transform="translate(276.45 25.55)" d="M6.9 13.2V0L0 8.7H8.4"/><path transform="translate(289.85 25.55)" d="M2.2 0H6.2Q8.4 0 8.4 2.2V11Q8.4 13.2 6.2 13.2H2.2Q0 13.2 0 11V2.2Q0 0 2.2 0ZM0 10.1L8.4 3.1"/><ellipse cx="304.85" cy="26.05" rx="2.2" ry="1.3"/><path transform="translate(398.30 25.55)" d="M3.5 0V13.2M1.4 2.2L3.5 0"/><path transform="translate(409.85 25.55)" d="M6.9 13.2V0L0 8.7H8.4"/><path transform="translate(422.35 25.55)" d="M2.2 0H6.2Q8.4 0 8.4 2.2V11Q8.4 13.2 6.2 13.2H2.2Q0 13.2 0 11V2.2Q0 0 2.2 0ZM0 10.1L8.4 3.1"/><ellipse cx="438.85" cy="26.05" rx="2.2" ry="1.3"/><path transform="translate(331.90 25.55)" d="M3.5 0V13.2M1.4 2.2L3.5 0"/><path transform="translate(343.55 25.55)" d="M2.6 0H5.6C7 0 7.8 0.8 7.8 2.2V3.8C7.8 5.2 7 6 5.6 6H2.6C1.2 6 0.4 5.2 0.4 3.8V2.2C0.4 0.8 1.2 0 2.6 0ZM2.3 6H6.1C7.6 6 8.4 6.9 8.4 8.4V10.8C8.4 12.3 7.6 13.2 6.1 13.2H2.3C0.8 13.2 0 12.3 0 10.8V8.4C0 6.9 0.8 6 2.3 6Z"/><path transform="translate(355.65 25.55)" d="M2.2 0H6.2Q8.4 0 8.4 2.2V11Q8.4 13.2 6.2 13.2H2.2Q0 13.2 0 11V2.2Q0 0 2.2 0ZM0 10.1L8.4 3.1"/><ellipse cx="373.35" cy="26.05" rx="2.2" ry="1.3"/><path transform="translate(218.05 466.15)" d="M0 3C0 1.2 1.4 0 3.2 0H5.2C7.1 0 8.4 1.2 8.4 3C8.4 4.3 7.8 5.1 6.8 6.1L0 13.2H8.4"/><path transform="translate(230.35 466.15)" d="M2.2 0H6.2Q8.4 0 8.4 2.2V11Q8.4 13.2 6.2 13.2H2.2Q0 13.2 0 11V2.2Q0 0 2.2 0ZM0 10.1L8.4 3.1"/><ellipse cx="247.65" cy="466.70" rx="2.2" ry="1.55"/><path transform="translate(279.70 466.15)" d="M3.5 0V13.2M1.4 2.2L3.5 0"/><path transform="translate(291.65 466.15)" d="M2.2 0H6.2Q8.4 0 8.4 2.2V11Q8.4 13.2 6.2 13.2H2.2Q0 13.2 0 11V2.2Q0 0 2.2 0ZM0 10.1L8.4 3.1"/><ellipse cx="308.85" cy="466.70" rx="2.2" ry="1.55"/><path transform="translate(343.45 466.15)" d="M2.2 0H6.2Q8.4 0 8.4 2.2V11Q8.4 13.2 6.2 13.2H2.2Q0 13.2 0 11V2.2Q0 0 2.2 0ZM0 10.1L8.4 3.1"/><ellipse cx="362.05" cy="466.70" rx="2.2" ry="1.55"/><path transform="translate(394.70 466.15)" d="M3.5 0V13.2M1.4 2.2L3.5 0"/><path transform="translate(406.45 466.15)" d="M2.2 0H6.2Q8.4 0 8.4 2.2V11Q8.4 13.2 6.2 13.2H2.2Q0 13.2 0 11V2.2Q0 0 2.2 0ZM0 10.1L8.4 3.1"/><ellipse cx="424.05" cy="466.70" rx="2.2" ry="1.55"/><path transform="translate(455.65 466.15)" d="M0 3C0 1.2 1.4 0 3.2 0H5.2C7.1 0 8.4 1.2 8.4 3C8.4 4.3 7.8 5.1 6.8 6.1L0 13.2H8.4"/><path transform="translate(467.55 466.15)" d="M2.2 0H6.2Q8.4 0 8.4 2.2V11Q8.4 13.2 6.2 13.2H2.2Q0 13.2 0 11V2.2Q0 0 2.2 0ZM0 10.1L8.4 3.1"/><ellipse cx="484.85" cy="466.70" rx="2.2" ry="1.55"/><path transform="translate(331.50 61.05)" d="M3.5 0V13.2M1.4 2.2L3.5 0"/><path transform="translate(343.70 61.05)" d="M2.2 0H6.2Q8.4 0 8.4 2.2V11Q8.4 13.2 6.2 13.2H2.2Q0 13.2 0 11V2.2Q0 0 2.2 0ZM0 10.1L8.4 3.1"/><path transform="translate(356.85 61.05)" d="M2.2 0H6.2Q8.4 0 8.4 2.2V11Q8.4 13.2 6.2 13.2H2.2Q0 13.2 0 11V2.2Q0 0 2.2 0ZM0 10.1L8.4 3.1"/><path transform="translate(331.50 185.75)" d="M3.5 0V13.2M1.4 2.2L3.5 0"/><path transform="translate(343.70 185.75)" d="M2.2 0H6.2Q8.4 0 8.4 2.2V11Q8.4 13.2 6.2 13.2H2.2Q0 13.2 0 11V2.2Q0 0 2.2 0ZM0 10.1L8.4 3.1"/><path transform="translate(356.85 185.75)" d="M2.2 0H6.2Q8.4 0 8.4 2.2V11Q8.4 13.2 6.2 13.2H2.2Q0 13.2 0 11V2.2Q0 0 2.2 0ZM0 10.1L8.4 3.1"/><path transform="translate(330.45 248.10)" d="M0 3C0 1.2 1.4 0 3.2 0H5.2C7.1 0 8.4 1.2 8.4 3C8.4 4.3 7.8 5.1 6.8 6.1L0 13.2H8.4"/><path transform="translate(343.70 248.10)" d="M2.2 0H6.2Q8.4 0 8.4 2.2V11Q8.4 13.2 6.2 13.2H2.2Q0 13.2 0 11V2.2Q0 0 2.2 0ZM0 10.1L8.4 3.1"/><path transform="translate(356.85 248.10)" d="M2.2 0H6.2Q8.4 0 8.4 2.2V11Q8.4 13.2 6.2 13.2H2.2Q0 13.2 0 11V2.2Q0 0 2.2 0ZM0 10.1L8.4 3.1"/><path transform="translate(330.45 310.45)" d="M0.6 0H5.9C7.4 0 8.3 0.9 8.3 2.5V3.9C8.3 5.4 7.4 6.3 5.9 6.3H3.6M5.9 6.3C7.4 6.3 8.3 7.3 8.3 8.9V10.7C8.3 12.3 7.2 13.2 5.6 13.2H2.4C1.2 13.2 0.4 12.6 0 11.7"/><path transform="translate(343.70 310.45)" d="M2.2 0H6.2Q8.4 0 8.4 2.2V11Q8.4 13.2 6.2 13.2H2.2Q0 13.2 0 11V2.2Q0 0 2.2 0ZM0 10.1L8.4 3.1"/><path transform="translate(356.85 310.45)" d="M2.2 0H6.2Q8.4 0 8.4 2.2V11Q8.4 13.2 6.2 13.2H2.2Q0 13.2 0 11V2.2Q0 0 2.2 0ZM0 10.1L8.4 3.1"/><path transform="translate(330.45 372.80)" d="M6.9 13.2V0L0 8.7H8.4"/><path transform="translate(343.70 372.80)" d="M2.2 0H6.2Q8.4 0 8.4 2.2V11Q8.4 13.2 6.2 13.2H2.2Q0 13.2 0 11V2.2Q0 0 2.2 0ZM0 10.1L8.4 3.1"/><path transform="translate(356.85 372.80)" d="M2.2 0H6.2Q8.4 0 8.4 2.2V11Q8.4 13.2 6.2 13.2H2.2Q0 13.2 0 11V2.2Q0 0 2.2 0ZM0 10.1L8.4 3.1"/><path transform="translate(330.45 435.15)" d="M8.8 0H0V5.3C1 4.2 2.3 3.8 4 3.8H5.5C7.6 3.8 8.8 5.3 8.8 7.5V9.5C8.8 11.8 7.3 13.2 5 13.2H3C1.5 13.2 0.4 12.5 0 11.5"/><path transform="translate(343.70 435.15)" d="M2.2 0H6.2Q8.4 0 8.4 2.2V11Q8.4 13.2 6.2 13.2H2.2Q0 13.2 0 11V2.2Q0 0 2.2 0ZM0 10.1L8.4 3.1"/><path transform="translate(356.85 435.15)" d="M2.2 0H6.2Q8.4 0 8.4 2.2V11Q8.4 13.2 6.2 13.2H2.2Q0 13.2 0 11V2.2Q0 0 2.2 0ZM0 10.1L8.4 3.1"/><path transform="translate(455.65 496.25) scale(0.9242424242424242)" d="M8.8 4.75H3.2C1.1 4.75 0 5.9 0 8V10C0 12.1 1.1 13.2 3.2 13.2H8.8" stroke-width="1.19"/><path transform="translate(469.15 496.25) scale(0.9242424242424242)" d="M8.4 0V13.2H3.2C1.1 13.2 0 12.1 0 10V8C0 5.9 1.1 4.75 3.2 4.75H8.4" stroke-width="1.19"/><path transform="translate(480.75 496.25) scale(0.9242424242424242)" d="M0 13.2L8.4 0" stroke-width="1.19"/><path transform="translate(494.07 496.25) scale(0.9242424242424242)" d="M3.5 0V13.2M1.4 2.2L3.5 0" stroke-width="1.19"/><path transform="translate(505.55 496.25) scale(0.9242424242424242)" d="M2.2 0H6.2Q8.4 0 8.4 2.2V11Q8.4 13.2 6.2 13.2H2.2Q0 13.2 0 11V2.2Q0 0 2.2 0ZM0 10.1L8.4 3.1" stroke-width="1.19"/><path transform="translate(516.75 496.25) scale(0.9242424242424242)" d="M2.2 0H6.2Q8.4 0 8.4 2.2V11Q8.4 13.2 6.2 13.2H2.2Q0 13.2 0 11V2.2Q0 0 2.2 0ZM0 10.1L8.4 3.1" stroke-width="1.19"/><path transform="translate(528.35 496.25) scale(0.9242424242424242)" d="M2.2 0H6.2Q8.4 0 8.4 2.2V11Q8.4 13.2 6.2 13.2H2.2Q0 13.2 0 11V2.2Q0 0 2.2 0ZM0 10.1L8.4 3.1" stroke-width="1.19"/><path transform="translate(547.50 496.25) scale(0.9242424242424242)" d="M0 0V13.2" stroke-width="1.19"/><path transform="translate(555.15 496.25) scale(0.9242424242424242)" d="M0 4.75V13.2M0 6.8C0.4 5.4 1.5 4.75 2.8 4.75C4.3 4.75 5 5.6 5 7V13.2M5 7C5 5.6 5.8 4.75 7.2 4.75C8.8 4.75 9.8 5.7 9.8 7.3V13.2" stroke-width="1.19"/><path transform="translate(491.30 440.85) scale(0.5757575757575758)" d="M0 0V13.2H7.6" stroke-width="1.91"/><path transform="translate(500.15 440.85) scale(0.5757575757575758)" d="M0 13.2V0L4.2 8.2L8.4 0V13.2" stroke-width="1.91"/><path transform="translate(508.95 440.85) scale(0.5757575757575758)" d="M8.2 1.6C7.6 0.5 6.6 0 5.2 0H3.1C1.3 0 0.2 1.1 0.2 2.9C0.2 4.6 1.3 5.5 3 5.9L5.5 6.6C7.3 7.1 8.4 8.1 8.4 10C8.4 12 7.2 13.2 5.2 13.2H3C1.5 13.2 0.5 12.6 0 11.5" stroke-width="1.91"/>
</g>
</svg>
</body></html>
